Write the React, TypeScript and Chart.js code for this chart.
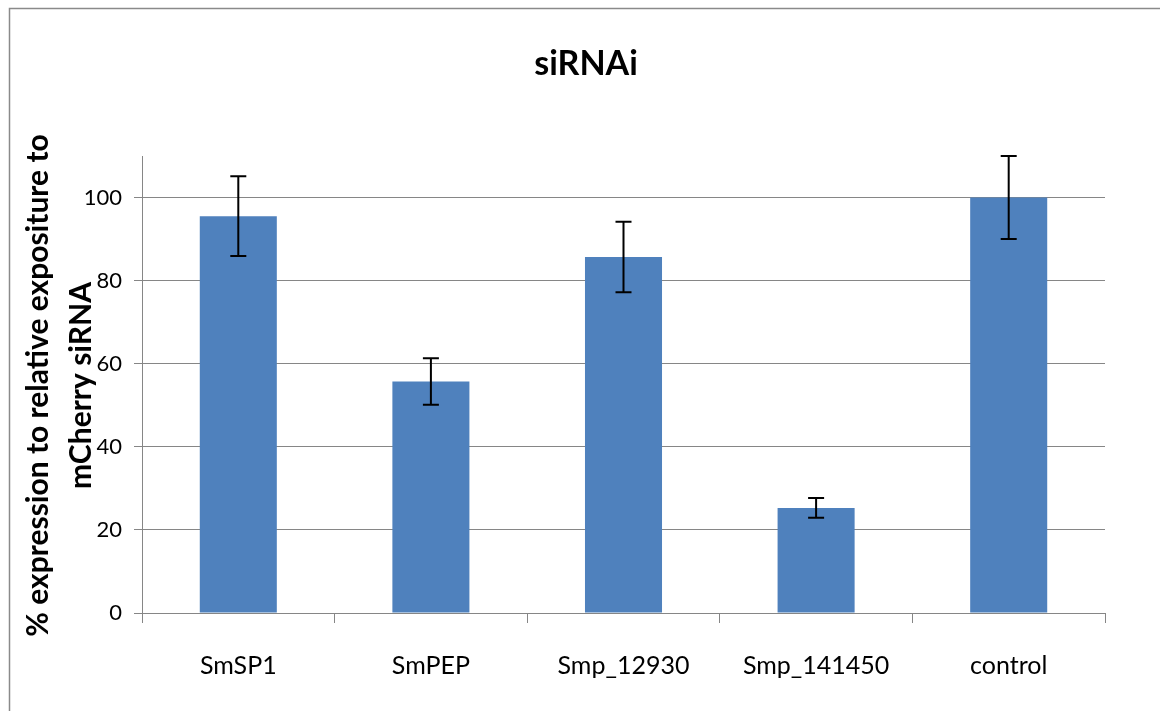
import React, { useEffect, useRef } from "react";
import { Chart, registerables } from "chart.js";

Chart.register(...registerables);

const categories = ["SmSP1", "SmPEP", "Smp_12930", "Smp_141450", "control"];
const values = [95.5, 55.7, 85.7, 25.3, 100];
const errors = [9.6, 5.6, 8.5, 2.4, 10];
const yTickValues = [0, 20, 40, 60, 80, 100];
const yMin = 0;
const yMax = 110;
const chartTitle = "siRNAi";
const yTitleLines = ["% expression to relative expositure to", "mCherry siRNA"];

const FONT = "Lato";
const AXIS_GRAY = "#868686";
const BAR_BLUE = "#4F81BD";

export default function App() {
  const ref = useRef<HTMLCanvasElement | null>(null);

  useEffect(() => {
    document.documentElement.style.overflow = "hidden";
    const canvas = ref.current;
    if (!canvas) return;

    const framePlugin = {
      id: "frame",
      beforeDraw(chart: any) {
        const ctx = chart.ctx;
        ctx.save();
        ctx.fillStyle = "#ffffff";
        ctx.fillRect(0, 0, chart.width, chart.height);
        ctx.strokeStyle = "#8a8a8a";
        ctx.lineWidth = 1.5;
        ctx.beginPath();
        ctx.moveTo(9.5, chart.height);
        ctx.lineTo(9.5, 8.5);
        ctx.lineTo(chart.width, 8.5);
        ctx.stroke();
        ctx.restore();
      },
    };

    const errorBarPlugin = {
      id: "errorBars",
      afterDatasetsDraw(chart: any) {
        const ctx = chart.ctx;
        const meta = chart.getDatasetMeta(0);
        const yScale = chart.scales.y;
        ctx.save();
        ctx.strokeStyle = "#000000";
        ctx.lineWidth = 2;
        meta.data.forEach((bar: any, i: number) => {
          const x = bar.x;
          const yTop = yScale.getPixelForValue(values[i] + errors[i]);
          const yBot = yScale.getPixelForValue(values[i] - errors[i]);
          const cap = 8;
          ctx.beginPath();
          ctx.moveTo(x, yTop);
          ctx.lineTo(x, yBot);
          ctx.moveTo(x - cap, yTop);
          ctx.lineTo(x + cap, yTop);
          ctx.moveTo(x - cap, yBot);
          ctx.lineTo(x + cap, yBot);
          ctx.stroke();
        });
        ctx.restore();
      },
    };

    const textPlugin = {
      id: "texts",
      afterDraw(chart: any) {
        const ctx = chart.ctx;
        const area = chart.chartArea;
        ctx.save();
        ctx.fillStyle = "#000000";
        ctx.textAlign = "center";
        ctx.textBaseline = "alphabetic";
        ctx.font = `bold 34px ${FONT}`;
        ctx.fillText(chartTitle, 586, 75);

        const yc = (area.top + area.bottom) / 2 + 1;
        ctx.font = `bold 30px ${FONT}`;
        const baselines = [48, 91];
        yTitleLines.forEach((line, i) => {
          ctx.save();
          ctx.translate(baselines[i], yc);
          ctx.rotate(-Math.PI / 2);
          ctx.fillText(line, 0, 0);
          ctx.restore();
        });
        ctx.restore();
      },
    };

    const chart = new Chart(canvas, {
      type: "bar",
      data: {
        labels: categories,
        datasets: [
          {
            data: values,
            backgroundColor: BAR_BLUE,
            borderWidth: 0,
            barPercentage: 0.4,
            categoryPercentage: 1,
          },
        ],
      },
      options: {
        responsive: false,
        animation: false,
        devicePixelRatio: 1,
        layout: { padding: { left: 0, top: 156, right: 55, bottom: 0 } },
        plugins: {
          legend: { display: false },
          title: { display: false },
          tooltip: { enabled: false },
        },
        scales: {
          x: {
            type: "category",
            offset: true,
            grid: {
              display: true,
              drawOnChartArea: false,
              drawTicks: true,
              tickLength: 10,
              color: AXIS_GRAY,
              offset: true,
            },
            border: { display: true, color: AXIS_GRAY, width: 1 },
            ticks: {
              font: { family: FONT, size: 25 },
              color: "#000000",
              padding: 28,
              maxRotation: 0,
              autoSkip: false,
            },
            afterFit: (s: any) => {
              s.height = 98;
            },
          },
          y: {
            min: yMin,
            max: yMax,
            afterBuildTicks: (s: any) => {
              s.ticks = yTickValues.map((v) => ({ value: v }));
            },
            grid: {
              color: AXIS_GRAY,
              tickLength: 8,
              drawTicks: true,
            },
            border: { display: true, color: AXIS_GRAY, width: 1 },
            ticks: {
              font: { family: FONT, size: 22 },
              color: "#000000",
              padding: 12,
            },
            afterFit: (s: any) => {
              s.width = 142;
            },
          },
        },
      },
      plugins: [framePlugin, errorBarPlugin, textPlugin],
    });

    return () => chart.destroy();
  }, []);

  return (
    <div style={{ position: "fixed", left: 0, top: 0, width: 1160, height: 711 }}>
      <canvas ref={ref} width={1160} height={711} style={{ width: 1160, height: 711, display: "block" }} />
    </div>
  );
}
